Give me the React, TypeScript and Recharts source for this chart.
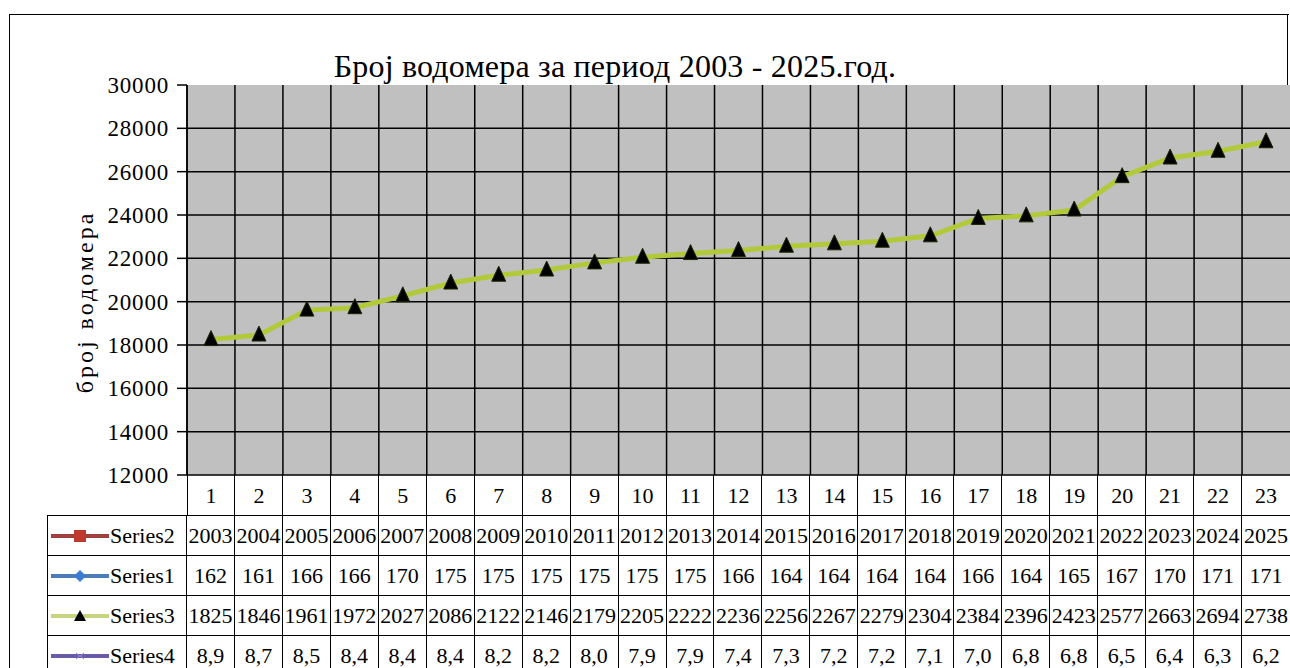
import { LineChart, Line, XAxis, YAxis, CartesianGrid, ReferenceLine } from "recharts";

const periods = [1, 2, 3, 4, 5, 6, 7, 8, 9, 10, 11, 12, 13, 14, 15, 16, 17, 18, 19, 20, 21, 22, 23];
const series2 = [2003, 2004, 2005, 2006, 2007, 2008, 2009, 2010, 2011, 2012, 2013, 2014, 2015, 2016, 2017, 2018, 2019, 2020, 2021, 2022, 2023, 2024, 2025];
const series1 = [162, 161, 166, 166, 170, 175, 175, 175, 175, 175, 175, 166, 164, 164, 164, 164, 166, 164, 165, 167, 170, 171, 171];
const series3 = [18250, 18460, 19610, 19720, 20270, 20860, 21220, 21460, 21790, 22050, 22220, 22360, 22560, 22670, 22790, 23040, 23840, 23960, 24230, 25770, 26630, 26940, 27380];
const series4 = [8.9, 8.7, 8.5, 8.4, 8.4, 8.4, 8.2, 8.2, 8.0, 7.9, 7.9, 7.4, 7.3, 7.2, 7.2, 7.1, 7.0, 6.8, 6.8, 6.5, 6.4, 6.3, 6.2];
const yTicks = [12000, 14000, 16000, 18000, 20000, 22000, 24000, 26000, 28000, 30000];
const gridValues = [12000, 14000, 16000, 18000, 20000, 22000, 24000, 26000, 28000];
const boundaries = [0.5, 1.5, 2.5, 3.5, 4.5, 5.5, 6.5, 7.5, 8.5, 9.5, 10.5, 11.5, 12.5, 13.5, 14.5, 15.5, 16.5, 17.5, 18.5, 19.5, 20.5, 21.5, 22.5];

const chartData = periods.map((p, i) => ({ x: p, s3: series3[i] }));

const FONT = '"Liberation Serif", "Times New Roman", serif';

// plot geometry
const PLOT_LEFT = 187;
const PLOT_RIGHT = 1290;
const PLOT_TOP = 85;
const PLOT_BOTTOM = 475;
const ROW_H = 40;

const Triangle = (props: any) => {
  const { cx, cy } = props;
  if (cx == null || cy == null) return null;
  return <path d={`M${cx},${cy - 9} L${cx + 7},${cy + 6} L${cx - 7},${cy + 6} Z`} fill="#000" stroke="#1a2a00" strokeWidth={1} />;
};

function LegendKey({ kind }: { kind: string }) {
  const colors: Record<string, string> = {
    Series2: "#A0403C",
    Series1: "#4A7EBB",
    Series3: "#C8D47E",
    Series4: "#6A5AA8",
  };
  const c = colors[kind];
  return (
    <svg width={58} height={14} style={{ verticalAlign: "middle", flexShrink: 0 }}>
      <line x1={0} y1={7} x2={58} y2={7} stroke={c} strokeWidth={4} />
      {kind === "Series2" && <rect x={23} y={1} width={12} height={12} fill="#C0392F" />}
      {kind === "Series1" && <path d="M29,1 L35,7 L29,13 L23,7 Z" fill="#3C7BD0" />}
      {kind === "Series3" && <path d="M29,1 L35,12 L23,12 Z" fill="#000" />}
      {kind === "Series4" && <path d="M25,4 L33,10 M33,4 L25,10" stroke="#8a8ad8" strokeWidth={1} />}
    </svg>
  );
}

export default function App() {
  const colW = (PLOT_RIGHT - PLOT_LEFT) / periods.length;
  const rows: { name: string; values: string[] }[] = [
    { name: "Series2", values: series2.map(String) },
    { name: "Series1", values: series1.map(String) },
    // the narrow cells only show the first four digits
    { name: "Series3", values: series3.map((v) => String(v).slice(0, 4)) },
    { name: "Series4", values: series4.map((v) => v.toFixed(1).replace(".", ",")) },
  ];
  const cellBorder = "1.5px solid #000";

  return (
    <div style={{ position: "absolute", left: 0, top: 0, width: 1290, height: 668, overflow: "hidden", background: "#fff", fontFamily: FONT }}>
      {/* outer frame: left + top full, right side only above the plot */}
      <div style={{ position: "absolute", left: 9, top: 14, width: 1279, height: 700, borderLeft: "1.5px solid #000", borderTop: "1.5px solid #000" }} />
      <div style={{ position: "absolute", left: 1287, top: 14, width: 0, height: PLOT_TOP - 14, borderRight: "1.5px solid #000" }} />

      <div style={{ position: "absolute", left: 0, top: 46, width: 1230, textAlign: "center", fontSize: 32, lineHeight: "40px", color: "#000", letterSpacing: 0.2 }}>
        Број водомера за период 2003 - 2025.год.
      </div>

      <div
        style={{
          position: "absolute",
          left: 85,
          top: 302,
          transform: "translate(-50%, -50%) rotate(-90deg)",
          fontSize: 24,
          letterSpacing: 3,
          whiteSpace: "nowrap",
          color: "#000",
        }}
      >
        број водомера
      </div>

      {/* data table under the plot */}
      <div style={{ position: "absolute", left: PLOT_LEFT, top: PLOT_BOTTOM, display: "flex" }}>
        {periods.map((p, i) => (
          <div
            key={p}
            style={{
              width: colW,
              height: ROW_H,
              boxSizing: "border-box",
              borderLeft: i === 0 ? cellBorder : "none",
              borderRight: i === periods.length - 1 ? "none" : cellBorder,
            }}
          />
        ))}
      </div>
      {rows.map((r, ri) => (
        <div key={r.name} style={{ position: "absolute", left: 47, top: PLOT_BOTTOM + ROW_H * (ri + 1), display: "flex", fontSize: 22, color: "#000" }}>
          <div
            style={{
              width: PLOT_LEFT - 47,
              height: ROW_H,
              boxSizing: "border-box",
              borderLeft: cellBorder,
              borderTop: cellBorder,
              borderRight: cellBorder,
              display: "flex",
              alignItems: "center",
              paddingLeft: 3,
              whiteSpace: "nowrap",
            }}
          >
            <LegendKey kind={r.name} />
            <span style={{ marginLeft: 1 }}>{r.name}</span>
          </div>
          {r.values.map((v, i) => (
            <div
              key={i}
              style={{
                width: colW,
                height: ROW_H,
                boxSizing: "border-box",
                borderTop: cellBorder,
                borderRight: i === r.values.length - 1 ? "none" : cellBorder,
                whiteSpace: "nowrap",
                display: "flex",
                alignItems: "center",
                justifyContent: "center",
              }}
            >
              {v}
            </div>
          ))}
        </div>
      ))}

      <div style={{ position: "absolute", left: 0, top: 0 }}>
        <LineChart
          width={1290}
          height={668}
          data={chartData}
          margin={{ top: PLOT_TOP, right: 1290 - PLOT_RIGHT, left: 0, bottom: 668 - PLOT_BOTTOM - 40 }}
        >
          <CartesianGrid
            vertical={false}
            horizontalValues={gridValues}
            stroke="#000"
            strokeWidth={1.5}
            fill="#C0C0C0"
            fillOpacity={1}
          />
          <XAxis
            dataKey="x"
            type="number"
            domain={[0.5, 23.5]}
            ticks={periods}
            interval={0}
            height={40}
            axisLine={false}
            tickLine={false}
            tickMargin={6}
            tick={{ fontSize: 22, fill: "#000", fontFamily: FONT }}
          />
          <YAxis
            domain={[12000, 30000]}
            ticks={yTicks}
            interval={0}
            width={PLOT_LEFT}
            tickSize={10}
            tickMargin={8}
            axisLine={{ stroke: "#000", strokeWidth: 1.5 }}
            tickLine={{ stroke: "#000", strokeWidth: 1.5 }}
            tick={{ fontSize: 23, fill: "#000", fontFamily: FONT, letterSpacing: 0.8 }}
          />
          {boundaries.map((b) => (
            <ReferenceLine key={b} x={b} stroke="#000" strokeWidth={1.5} ifOverflow="extendDomain" />
          ))}
          <Line
            type="linear"
            dataKey="s3"
            stroke="#B2CA3A"
            strokeWidth={5}
            dot={<Triangle />}
            activeDot={false}
            isAnimationActive={false}
          />
        </LineChart>
      </div>
    </div>
  );
}
